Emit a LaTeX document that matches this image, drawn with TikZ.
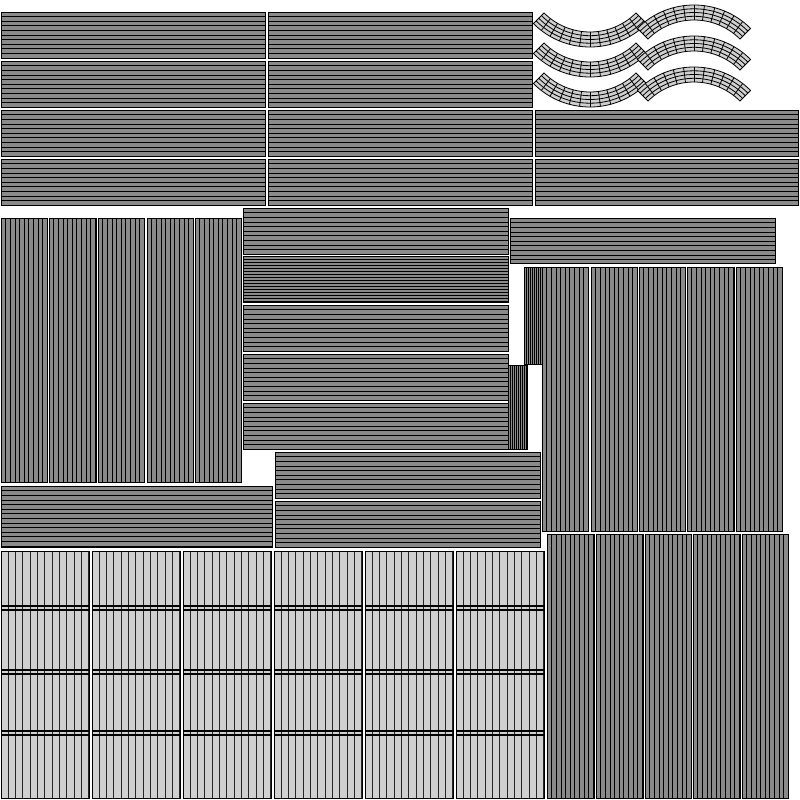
\documentclass[tikz,border=0pt]{standalone}
\usetikzlibrary{calc}
\definecolor{pg}{HTML}{8A8A8A}
\definecolor{lg}{HTML}{D0D0D0}
\tikzset{panel/.style={draw=black,line width=0.7pt},stripe/.style={line width=0.6pt,black}}
\newcommand{\hpan}[4]{%
 \fill[pg] (#1,#2) rectangle (#3,#4);
 \pgfmathsetmacro{\st}{#2+4.6}\pgfmathsetmacro{\sn}{#2+9.2}
 \foreach \yy in {\st,\sn,...,#4} {\draw[stripe] (#1,\yy) -- (#3,\yy);}
 \draw[panel] (#1,#2) rectangle (#3,#4);}
\newcommand{\vpan}[4]{%
 \fill[pg] (#1,#2) rectangle (#3,#4);
 \pgfmathsetmacro{\st}{#1+4.6}\pgfmathsetmacro{\sn}{#1+9.2}
 \foreach \xx in {\st,\sn,...,#3} {\draw[stripe] (\xx,#2) -- (\xx,#4);}
 \draw[panel] (#1,#2) rectangle (#3,#4);}
\newcommand{\lpan}[4]{%
 \fill[lg] (#1,#2) rectangle (#3,#4);
 \pgfmathsetmacro{\st}{#1+7.3}\pgfmathsetmacro{\sn}{#1+14.6}
 \foreach \xx in {\st,\sn,...,#3} {\draw[line width=1pt,black!85] (\xx,#2) -- (\xx,#4);}
 \foreach \yy in {608,672,733} {\draw[line width=1.2pt] (#1,\yy-2) -- (#3,\yy-2); \draw[line width=1.2pt] (#1,\yy+2) -- (#3,\yy+2);}
 \draw[panel] (#1,#2) rectangle (#3,#4);}
\newcommand{\arcp}[4]{%
 \fill[lg,draw=black,line width=0.8pt] ($(#1,#2)+(#3:65)$) arc[start angle=#3,end angle=#4,radius=65] -- ($(#1,#2)+(#4:80)$) arc[start angle=#4,end angle=#3,radius=80] -- cycle;
 \foreach \r in {68.7,72.5,76.2} {\draw[line width=0.8pt] ($(#1,#2)+(#3:\r)$) arc[start angle=#3,end angle=#4,radius=\r];}
 \foreach \k in {1,...,11} {\pgfmathsetmacro{\aa}{#3+(#4-#3)*\k/12}\draw[line width=0.8pt] ($(#1,#2)+(\aa:65)$) -- ($(#1,#2)+(\aa:80)$);}}
\begin{document}
\begin{tikzpicture}[x=1pt,y=-1pt]
\useasboundingbox (0,0) rectangle (800,800);
\fill[white] (0,0) rectangle (800,800);
\foreach \ya/\yb in {12/58,61/107,110/156,159/205} {\hpan{1}{\ya}{265}{\yb}\hpan{268}{\ya}{532}{\yb}}
\hpan{535}{110}{798}{156}\hpan{535}{159}{798}{205}
\foreach \dy in {0,30,60} {\arcp{590}{-33+\dy}{45}{135}}
\foreach \dy in {0,31,62} {\arcp{694}{85+\dy}{225}{315}}
\foreach \xa/\xb in {1/47,49/96,98/144,147/193,195/241} {\vpan{\xa}{218}{\xb}{482}}
\hpan{243}{208}{508}{254}
\fill[pg] (243,256) rectangle (508,302);
\foreach \yy in {259,262,...,302} {\draw[stripe] (243,\yy) -- (508,\yy);}
\draw[panel] (243,256) rectangle (508,302);
\hpan{243}{305}{508}{351}\hpan{243}{354}{508}{400}\hpan{243}{403}{508}{449}
\hpan{510}{218}{775}{263}
\fill[pg] (524,267) rectangle (542,364);
\foreach \xx in {526,528,...,542} {\draw[stripe] (\xx,267) -- (\xx,364);}
\draw[panel] (524,267) rectangle (542,364);
\fill[pg] (508,365) rectangle (527,449);
\foreach \xx in {510,512,...,527} {\draw[stripe] (\xx,365) -- (\xx,449);}
\draw[panel] (508,365) rectangle (527,449);
\foreach \xa/\xb in {542/588,591/637,639/685,687/734,736/782} {\vpan{\xa}{267}{\xb}{531}}
\hpan{275}{452}{540}{498}\hpan{275}{501}{540}{547}
\hpan{1}{486}{272}{547}
\foreach \xa/\xb in {1/89,92/180,183/271,274/362,365/453,456/544} {\lpan{\xa}{551}{\xb}{798}}
\foreach \xa/\xb in {547/594,596/643,645/691,693/740,742/788} {\vpan{\xa}{534}{\xb}{798}}
\end{tikzpicture}
\end{document}
